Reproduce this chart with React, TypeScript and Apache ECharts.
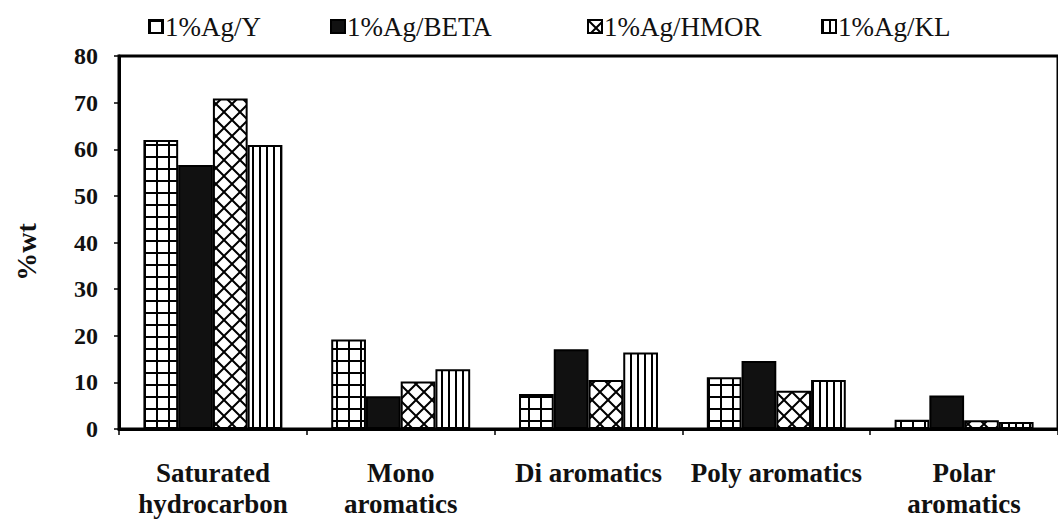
import React, { useEffect, useRef } from "react";
import * as echarts from "echarts";

const categories = ["Saturated\nhydrocarbon", "Mono\naromatics", "Di aromatics", "Poly aromatics", "Polar\naromatics"];
const seriesNames = ["1%Ag/Y", "1%Ag/BETA", "1%Ag/HMOR", "1%Ag/KL"];
const agY = [62, 19.2, 7.5, 11.1, 2.0];
const agBETA = [56.6, 7.0, 17.1, 14.6, 7.2];
const agHMOR = [70.9, 10.2, 10.5, 8.2, 1.9];
const agKL = [60.9, 12.8, 16.4, 10.5, 1.5];
const yTicks = [0, 10, 20, 30, 40, 50, 60, 70, 80];
const yTitle = "%wt";

const FONT = "Liberation Serif";

function makeCanvas(w: number, h: number, draw: (ctx: CanvasRenderingContext2D) => void) {
  const c = document.createElement("canvas");
  c.width = w;
  c.height = h;
  const ctx = c.getContext("2d")!;
  ctx.fillStyle = "#fff";
  ctx.fillRect(0, 0, w, h);
  ctx.strokeStyle = "#000";
  ctx.fillStyle = "#000";
  draw(ctx);
  return c;
}

function gridPattern() {
  const s = 12;
  const c = makeCanvas(s, s, (ctx) => {
    ctx.fillRect(0, 0, 2, s);
    ctx.fillRect(0, 0, s, 2);
  });
  return { image: c, repeat: "repeat", imageWidth: s, imageHeight: s } as any;
}

function stripePattern() {
  const w = 7, h = 7;
  const c = makeCanvas(w, h, (ctx) => {
    ctx.fillRect(0, 0, 2, h);
  });
  return { image: c, repeat: "repeat", imageWidth: w, imageHeight: h } as any;
}

function brickPattern() {
  const s = 16;
  const c = makeCanvas(s, s, (ctx) => {
    ctx.lineWidth = 2;
    ctx.beginPath();
    for (const o of [-s, 0, s]) {
      ctx.moveTo(o, s);
      ctx.lineTo(o + s, 0);
    }
    ctx.moveTo(0, 0);
    ctx.lineTo(s / 2, s / 2);
    ctx.moveTo(s, s);
    ctx.lineTo(s / 2, s / 2);
    ctx.stroke();
  });
  return { image: c, repeat: "repeat", imageWidth: s, imageHeight: s } as any;
}

export default function App() {
  const ref = useRef<HTMLDivElement>(null);
  useEffect(() => {
    if (!ref.current) return;
    const chart = echarts.init(ref.current, null, { renderer: "svg" });
    const fills = [gridPattern(), "#111", brickPattern(), stripePattern()];
    const data = [agY, agBETA, agHMOR, agKL];
    const legendLeft = [143, 325, 582, 816];
    const option: any = {
      animation: false,
      backgroundColor: "#fff",
      legend: seriesNames.map((n, i) => ({
        data: [n],
        left: legendLeft[i],
        top: 8,
        itemWidth: 14,
        itemHeight: 13,
        itemGap: 0,
        icon: "rect",
        textStyle: { fontFamily: FONT, fontSize: 27, color: "#111", padding: [0, 0, 0, -3] },
      })),
      graphic: [
        {
          type: "text",
          x: 26,
          y: 252,
          rotation: Math.PI / 2,
          style: {
            text: yTitle,
            fontFamily: FONT,
            fontWeight: "bold",
            fontSize: 28,
            fill: "#111",
            align: "center",
            verticalAlign: "middle",
          },
        },
      ],
      grid: {
        left: 119,
        right: -6,
        top: 56,
        bottom: 87,
        show: true,
        borderColor: "#000",
        borderWidth: 3,
        backgroundColor: "transparent",
      },
      xAxis: {
        type: "category",
        data: categories,
        axisLine: { lineStyle: { color: "#000", width: 3 } },
        axisTick: { show: true, length: 6, lineStyle: { color: "#000", width: 1.5 } },
        axisLabel: {
          fontFamily: FONT,
          fontWeight: "bold",
          fontSize: 27,
          color: "#111",
          lineHeight: 31,
          margin: 28,
          interval: 0,
        },
      },
      yAxis: {
        type: "value",
        min: 0,
        max: 80,
        interval: 10,
        axisLine: { show: true, lineStyle: { color: "#000", width: 3 } },
        axisTick: { show: true, length: 5, lineStyle: { color: "#000", width: 1.5 } },
        splitLine: { show: false },
        axisLabel: {
          fontFamily: FONT,
          fontWeight: "bold",
          fontSize: 24,
          color: "#111",
          margin: 21,
          formatter: (v: number) => (yTicks.includes(v) ? String(v) : ""),
        },
      },
      series: seriesNames.map((n, i) => ({
        name: n,
        type: "bar",
        data: data[i],
        barGap: "0%",
        barCategoryGap: "26%",
        itemStyle: { color: fills[i], borderColor: "#000", borderWidth: 2 },
      })),
    };
    chart.setOption(option);
    return () => chart.dispose();
  }, []);
  return (
    <div
      ref={ref}
      style={{ position: "fixed", left: 0, top: 0, width: 1058, height: 519, background: "#fff" }}
    />
  );
}
